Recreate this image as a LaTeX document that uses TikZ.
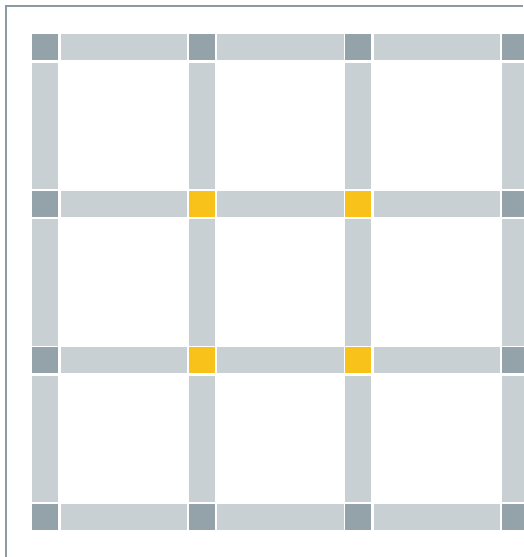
\documentclass[tikz,border=0pt]{standalone}
\usetikzlibrary{positioning}
\definecolor{framegray}{HTML}{8A9BA3}
\definecolor{jointgray}{HTML}{94A3AA}
\definecolor{beamgray}{HTML}{C9D0D3}
\definecolor{hotyellow}{HTML}{F9C21A}
\begin{document}
\begin{tikzpicture}[x=1pt,y=-1pt,
  jn/.style={rectangle,fill=jointgray,inner sep=0pt,draw=none,
             minimum size=26pt,anchor=north west},
  hotjn/.style={jn,fill=hotyellow,anchor=center},
  hb/.style={rectangle,fill=beamgray,inner sep=0pt,draw=none,
             minimum width=126.5pt,minimum height=26pt},
  vb/.style={rectangle,fill=beamgray,inner sep=0pt,draw=none,
             minimum width=26pt,minimum height=126.5pt}]
%%
\useasboundingbox (0,0) rectangle (523,557);
%%
%% Frame (left and top edges only)
\draw[framegray,line width=2pt] (6,557) -- (6,6) -- (523,6);
%%
%% Joints
\foreach \i in {0,...,3}
  \foreach \j in {0,...,3}
    \node[jn] (jn\i\j) at ({32+156.5*\i},{34+156.5*\j}) {};
%%
%% Beams between joints
\foreach \i in {0,1,2}
  \foreach \j in {0,...,3}
    \node[hb,right=2pt of jn\i\j] (hb\i\j) {};
\foreach \i in {0,...,3}
  \foreach \j in {0,1,2}
    \node[vb,below=2pt of jn\i\j] (vb\i\j) {};
%%
%% Highlighted inner joints
\foreach \i/\j in {1/1,2/1,1/2,2/2}
  \node[hotjn] (hot\i\j) at (jn\i\j.center) {};
\end{tikzpicture}
\end{document}
